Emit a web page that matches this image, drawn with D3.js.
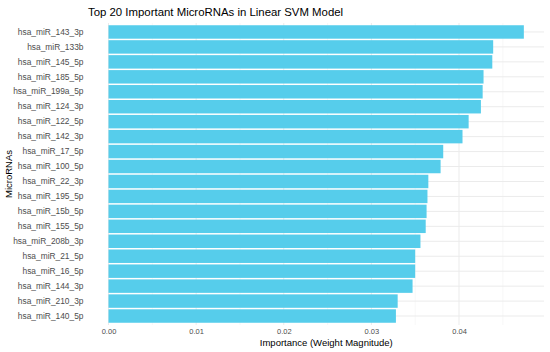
<!DOCTYPE html>
<html>
<head>
<meta charset="utf-8">
<script src="https://cdn.jsdelivr.net/npm/d3@7"></script>
<style>
  body { margin: 0; background: #fff; }
  text { font-family: "Liberation Sans", Arial, sans-serif; }
</style>
</head>
<body>
<svg id="chart" width="550" height="352"></svg>
<script>
// microRNA names, top to bottom
const mirnas = [
  "hsa_miR_143_3p", "hsa_miR_133b", "hsa_miR_145_5p", "hsa_miR_185_5p",
  "hsa_miR_199a_5p", "hsa_miR_124_3p", "hsa_miR_122_5p", "hsa_miR_142_3p",
  "hsa_miR_17_5p", "hsa_miR_100_5p", "hsa_miR_22_3p", "hsa_miR_195_5p",
  "hsa_miR_15b_5p", "hsa_miR_155_5p", "hsa_miR_208b_3p", "hsa_miR_21_5p",
  "hsa_miR_16_5p", "hsa_miR_144_3p", "hsa_miR_210_3p", "hsa_miR_140_5p"
];
// weight magnitude
const importance = [
  0.0474, 0.0439, 0.0438, 0.0428, 0.0427, 0.0425, 0.0411, 0.0404,
  0.0382, 0.0379, 0.0365, 0.0364, 0.0363, 0.0362, 0.0356, 0.0350,
  0.0350, 0.0347, 0.0330, 0.0328
];
const xTicks = [0, 0.01, 0.02, 0.03, 0.04];
const xMinorTicks = [0.005, 0.015, 0.025, 0.035, 0.045];

const svg = d3.select("#chart");
const pLeft = 108.5, pRight = 544, pTop = 23, pBottom = 325;

const x = d3.scaleLinear().domain([0, 0.0497]).range([pLeft, pRight]);
// discrete axis with 0.6 band padding at each end (ggplot style)
const y = d3.scaleBand().domain(mirnas).range([pTop, pBottom])
  .paddingInner(0.1).paddingOuter(0.15);

const grid = svg.append("g");
// minor grid
grid.selectAll(".minor").data(xMinorTicks).join("line")
  .attr("x1", d => x(d)).attr("x2", d => x(d))
  .attr("y1", pTop).attr("y2", pBottom)
  .attr("stroke", "#f0f0f0").attr("stroke-width", 0.5);
// major grid
grid.selectAll(".majx").data(xTicks).join("line")
  .attr("x1", d => x(d)).attr("x2", d => x(d))
  .attr("y1", pTop).attr("y2", pBottom)
  .attr("stroke", "#ebebeb").attr("stroke-width", 1);
grid.selectAll(".majy").data(mirnas).join("line")
  .attr("x1", pLeft).attr("x2", pRight)
  .attr("y1", d => y(d) + y.bandwidth() / 2).attr("y2", d => y(d) + y.bandwidth() / 2)
  .attr("stroke", "#ebebeb").attr("stroke-width", 1);

// bars
svg.append("g").selectAll("rect").data(mirnas).join("rect")
  .attr("x", x(0))
  .attr("y", d => y(d))
  .attr("width", (d, i) => x(importance[i]) - x(0))
  .attr("height", y.bandwidth())
  .attr("fill", "#56cdeb");

// y axis labels
const yAxis = svg.append("g")
  .attr("transform", "translate(" + (pLeft - 3) + ",0)")
  .call(d3.axisLeft(y).tickSize(0).tickPadding(22));
yAxis.select(".domain").remove();
yAxis.selectAll("text")
  .attr("font-size", "8.4px").attr("fill", "#4d4d4d")
  .style("font-family", "'Liberation Sans', Arial, sans-serif");

// x axis labels
const xAxis = svg.append("g")
  .attr("transform", "translate(0," + pBottom + ")")
  .call(d3.axisBottom(x).tickValues(xTicks).tickFormat(d3.format(".2f")).tickSize(0).tickPadding(4));
xAxis.select(".domain").remove();
xAxis.selectAll("text")
  .attr("font-size", "7.5px").attr("fill", "#4d4d4d")
  .style("font-family", "'Liberation Sans', Arial, sans-serif");

// titles
svg.append("text")
  .attr("x", 88).attr("y", 16)
  .attr("font-size", "11.4px").attr("fill", "#000")
  .text("Top 20 Important MicroRNAs in Linear SVM Model");

svg.append("text")
  .attr("x", (pLeft + pRight) / 2).attr("y", 346)
  .attr("text-anchor", "middle")
  .attr("font-size", "9.5px").attr("fill", "#000")
  .text("Importance (Weight Magnitude)");

svg.append("text")
  .attr("transform", "translate(12," + (pTop + pBottom) / 2 + ") rotate(-90)")
  .attr("text-anchor", "middle")
  .attr("font-size", "9.5px").attr("fill", "#000")
  .text("MicroRNAs");
</script>
</body>
</html>
